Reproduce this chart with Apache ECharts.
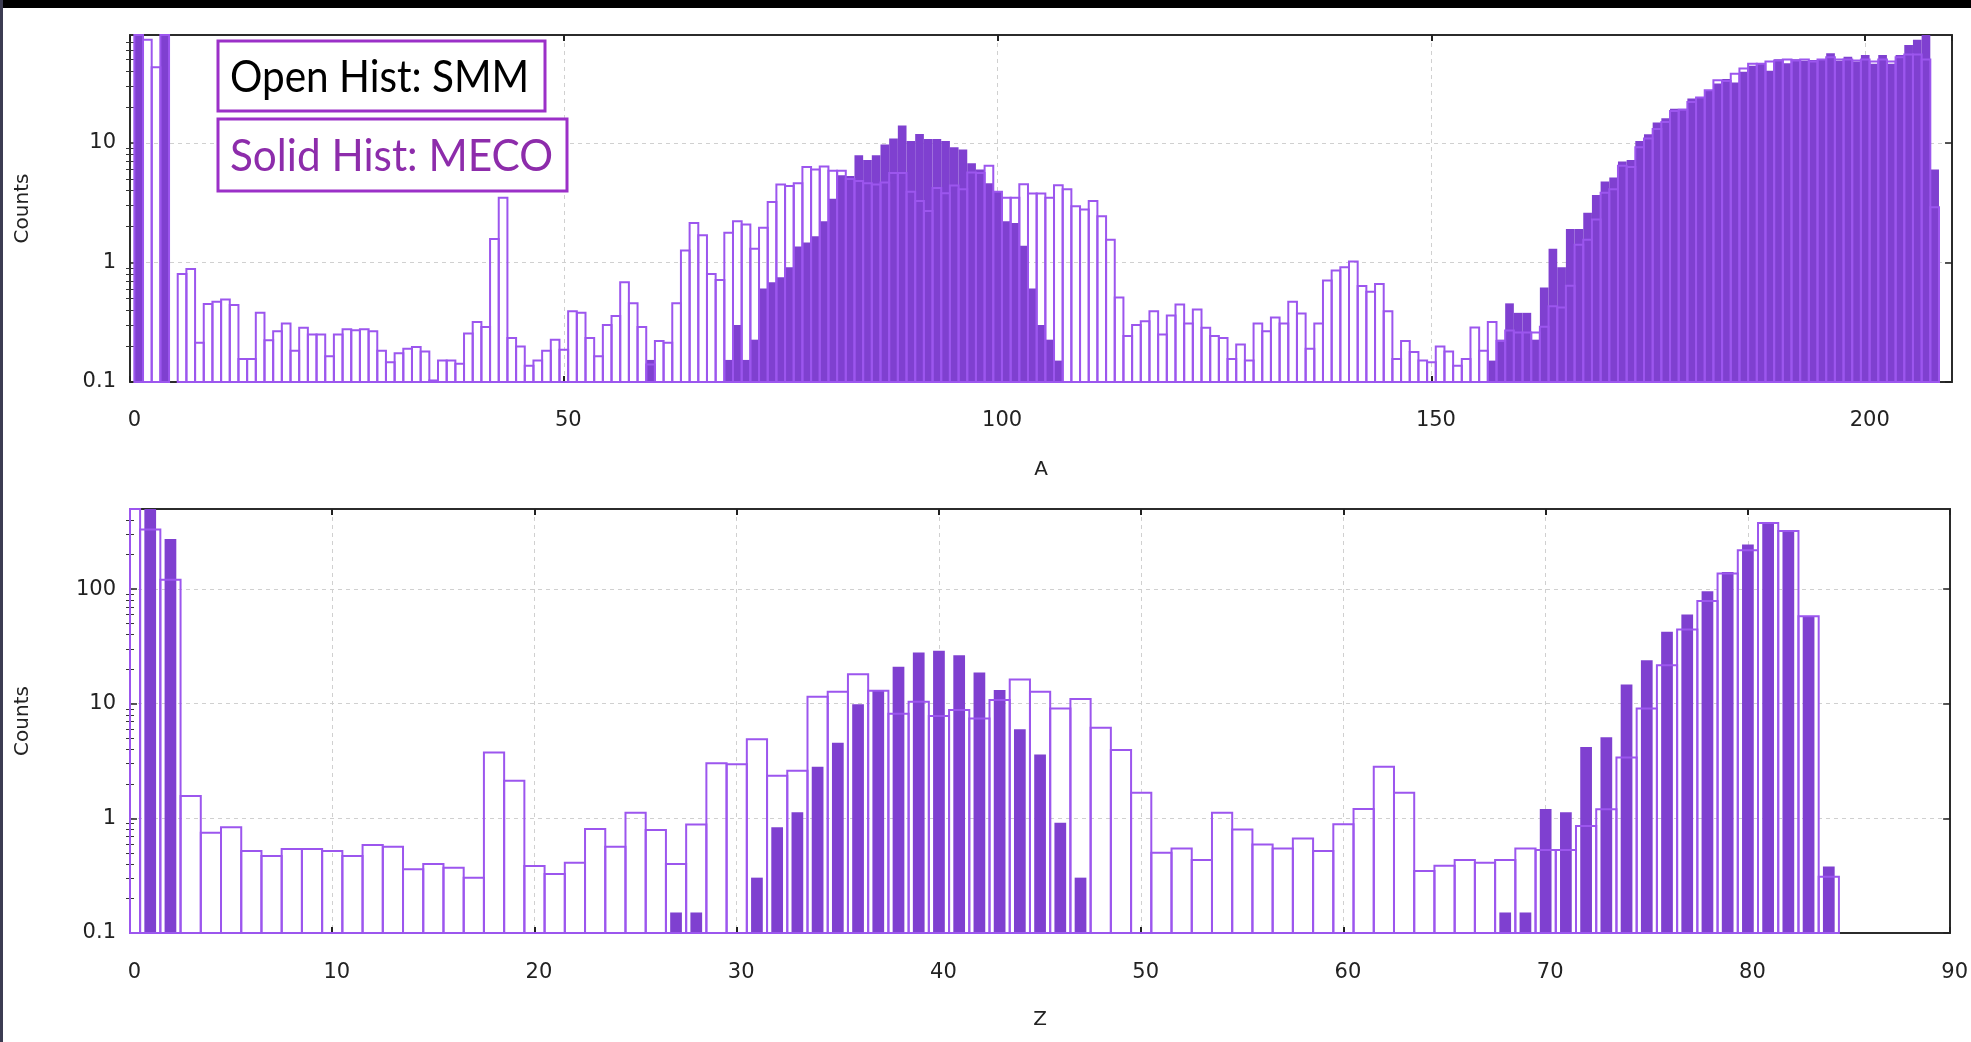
<!DOCTYPE html>
<html>
<head>
<meta charset="utf-8">
<script src="https://cdn.jsdelivr.net/npm/echarts@6.0.0/dist/echarts.min.js"></script>
<style>
html,body{margin:0;padding:0;background:#fff;}
#c{width:1971px;height:1042px;}
</style>
</head>
<body>
<div id="c"></div>
<script>
// ---------------- DATA ----------------
// Top panel: mass number A, bins start at A = 1
const A_START = 1;
const smmA = [
  300,73,43,300,0,0.80,0.88,0.213,0.449,0.469,
  0.49,0.44,0.156,0.156,0.379,0.223,0.266,0.308,0.183,0.284,
  0.25,0.25,0.164,0.25,0.276,0.271,0.276,0.266,0.183,0.146,
  0.174,0.19,0.196,0.18,0.103,0.151,0.151,0.142,0.254,0.318,
  0.289,1.57,3.48,0.233,0.198,0.137,0.151,0.183,0.226,0.186,
  0.391,0.379,0.233,0.164,0.30,0.357,0.683,0.455,0.289,0.14,
  0.22,0.213,0.455,1.26,2.14,1.69,0.80,0.714,1.77,2.21,
  2.08,1.30,1.95,3.2,4.5,4.37,4.6,6.3,6.0,6.35,
  5.85,5.85,5.0,4.8,4.6,4.5,4.66,5.6,5.6,3.9,
  3.27,2.69,4.2,3.8,4.4,4.1,5.65,5.6,6.45,3.9,
  3.48,3.48,4.52,3.77,3.77,3.48,4.43,4.09,2.96,2.78,
  3.27,2.44,1.55,0.51,0.242,0.30,0.322,0.39,0.25,0.36,
  0.445,0.308,0.405,0.284,0.242,0.233,0.156,0.206,0.151,0.308,
  0.266,0.346,0.308,0.469,0.374,0.19,0.308,0.705,0.856,0.913,
  1.02,0.636,0.57,0.66,0.39,0.156,0.22,0.178,0.151,0.146,
  0.198,0.18,0.137,0.156,0.286,0.183,0.318,0.22,0.27,0.26,
  0.26,0.26,0.29,0.43,0.42,0.64,1.41,1.55,2.29,3.84,
  4.1,6.44,6.3,9.2,10.9,13.1,15.0,18.5,19.0,22.0,
  24.0,27.6,33.5,33.0,38.0,42.0,46.0,46.0,48.0,49.0,
  50.0,49.0,50.0,48.0,50.0,52.0,50.0,50.0,49.0,50.0,
  48.0,50.0,48.0,52.0,55.0,55.0,50.0,2.9
];
const mecoA = [
  300,0,0,300,0,0,0,0,0,0,
  0,0,0,0,0,0,0,0,0,0,
  0,0,0,0,0,0,0,0,0,0,
  0,0,0,0,0,0,0,0,0,0,
  0,0,0,0,0,0,0,0,0,0,
  0,0,0,0,0,0,0,0,0,0.153,
  0,0,0,0,0,0,0,0,0.153,0.30,
  0.153,0.226,0.607,0.683,0.752,0.913,1.36,1.47,1.66,2.21,
  3.42,5.37,5.3,7.9,7.2,7.9,9.7,10.9,14.0,10.4,
  11.9,10.8,10.8,10.4,9.2,8.8,6.75,6.0,4.6,3.97,
  2.21,2.14,1.38,0.607,0.30,0.226,0.151,0,0,0,
  0,0,0,0,0,0,0,0,0,0,
  0,0,0,0,0,0,0,0,0,0,
  0,0,0,0,0,0,0,0,0,0,
  0,0,0,0,0,0,0,0,0,0,
  0,0,0,0,0,0,0.151,0.226,0.455,0.379,
  0.379,0.226,0.616,1.30,0.913,1.91,1.91,2.60,3.67,4.75,
  5.14,7.0,7.2,10.4,11.8,14.8,16.1,19.3,19.3,23.5,
  24.2,27.6,31.4,34.2,32.0,39.4,44.3,46.4,40.1,50.1,
  46.4,50.1,48.8,49.5,50.5,56.3,48.8,52.7,48.0,54.4,
  46.0,54.5,46.0,54.5,66.0,73.0,85.0,6.0
];
// Bottom panel: charge Z, bins start at Z = 0
const Z_START = 0;
const smmZ = [
  3000,331,121,1.57,0.75,0.835,0.519,0.469,0.54,0.54,
  0.519,0.469,0.585,0.566,0.359,0.40,0.371,0.304,3.76,2.13,
  0.384,0.327,0.41,0.807,0.566,1.12,0.79,0.40,0.886,3.02,
  2.96,4.89,2.36,2.6,11.5,12.7,18.1,13.0,8.2,10.4,
  7.8,8.8,7.45,10.8,16.3,12.7,9.1,11.0,6.17,3.94,
  1.67,0.502,0.547,0.433,1.12,0.80,0.593,0.547,0.669,0.519,
  0.89,1.21,2.82,1.67,0.347,0.387,0.433,0.41,0.433,0.547,
  0.53,0.53,0.857,1.2,3.4,9.1,21.7,44.5,78.6,137,
  218,378,322,58,0.31
];
const mecoZ = [
  0,3000,273,0,0,0,0,0,0,0,
  0,0,0,0,0,0,0,0,0,0,
  0,0,0,0,0,0,0,0.151,0.151,0,
  0,0.304,0.835,1.13,2.82,4.57,9.9,13.0,21.0,28.0,
  29.0,26.5,18.7,13.2,6.0,3.61,0.917,0.304,0,0,
  0,0,0,0,0,0,0,0,0,0,
  0,0,0,0,0,0,0,0,0.151,0.151,
  1.21,1.13,4.2,5.1,14.7,24,42.4,60,96,141,
  245,386,327,58,0.38
];
// Axis ticks
const topYMajor = [0.1, 1, 10];
const topYMinor = [0.2,0.3,0.4,0.5,0.6,0.7,0.8,0.9,2,3,4,5,6,7,8,9,20,30,40,50,60,70];
const botYMajor = [0.1, 1, 10, 100];
const botYMinor = [0.2,0.3,0.4,0.5,0.6,0.7,0.8,0.9,2,3,4,5,6,7,8,9,20,30,40,50,60,70,80,90,200,300,400];
const legendOpen = 'Open Hist: SMM';
const legendSolid = 'Solid Hist: MECO';

// ---------------- CHART ----------------
const FONT = 'DejaVu Sans';
const tickTxt = { color: '#222', fontSize: 21, fontFamily: FONT };
const nameTxt = { color: '#222', fontSize: 20, fontFamily: FONT };
const FILL = '#7f40d0';
const EDGE = '#9c56ee';

function toPairs(start, arr) {
  const out = [];
  arr.forEach((v, i) => { if (v > 0) out.push([start + i, v]); });
  return out;
}

function histRender(halfW, yBase, filled) {
  return function (params, api) {
    const x = api.value(0), v = api.value(1);
    const p1 = api.coord([x - halfW, v]);
    const p2 = api.coord([x + halfW, yBase]);
    const cs = params.coordSys;
    const rect = echarts.graphic.clipRectByRect(
      { x: p1[0], y: p1[1], width: p2[0] - p1[0], height: p2[1] - p1[1] },
      { x: cs.x, y: cs.y, width: cs.width, height: cs.height }
    );
    if (!rect) return;
    return {
      type: 'rect',
      shape: rect,
      style: filled ? { fill: FILL } : { fill: 'none', stroke: EDGE, lineWidth: 2 }
    };
  };
}

function xAxes(grid, max, interval, name, nameGap, margin) {
  const line = { show: true, onZero: false, lineStyle: { color: '#2b2b2b', width: 2 } };
  const tick = { show: true, inside: true, length: 6, lineStyle: { color: '#222', width: 2 } };
  return [{
    gridIndex: grid, type: 'value', min: 0, max: max, interval: interval, position: 'bottom',
    axisLine: line, axisTick: tick,
    axisLabel: Object.assign({}, tickTxt, { margin: margin, padding: [0, 0, 0, 9],
      showMaxLabel: max % interval === 0, showMinLabel: true }),
    splitLine: { show: true, lineStyle: { color: '#d0d0d0', type: [4, 4], width: 1 } },
    name: name, nameLocation: 'middle', nameGap: nameGap, nameTextStyle: Object.assign({}, nameTxt)
  }, {
    gridIndex: grid, type: 'value', min: 0, max: max, interval: interval, position: 'top',
    axisLine: line, axisTick: tick, axisLabel: { show: false }, splitLine: { show: false }
  }];
}

function yAxes(grid, max, majors, minors, nameGap, padTop) {
  const line = { show: true, onZero: false, lineStyle: { color: '#2b2b2b', width: 2 } };
  const base = { gridIndex: grid, type: 'log', logBase: 10, min: 0.1, max: max };
  const majTick = { show: true, inside: true, length: 7, customValues: majors, lineStyle: { color: '#222', width: 1.5 } };
  const minTick = { show: true, inside: true, length: 4, customValues: minors, lineStyle: { color: '#333', width: 1 } };
  return [
    Object.assign({}, base, {
      position: 'left', axisLine: line, axisTick: majTick,
      axisLabel: Object.assign({}, tickTxt, { margin: 14, customValues: majors, padding: [padTop, 0, 0, 0],
        formatter: v => String(+Number(v).toPrecision(3)) }),
      splitLine: { show: true, lineStyle: { color: '#d0d0d0', type: [4, 4], width: 1 } },
      name: 'Counts', nameLocation: 'middle', nameGap: nameGap, nameTextStyle: Object.assign({}, nameTxt)
    }),
    Object.assign({}, base, { position: 'left', axisLine: { show: false }, axisTick: minTick,
      axisLabel: { show: false }, splitLine: { show: false } }),
    Object.assign({}, base, { position: 'right', axisLine: line, axisTick: majTick,
      axisLabel: { show: false }, splitLine: { show: false } }),
    Object.assign({}, base, { position: 'right', axisLine: { show: false }, axisTick: minTick,
      axisLabel: { show: false }, splitLine: { show: false } })
  ];
}

const chart = echarts.init(document.getElementById('c'), null, { renderer: 'canvas' });
chart.setOption({
  animation: false,
  backgroundColor: '#ffffff',
  textStyle: { fontFamily: FONT },
  grid: [
    { left: 130, top: 35, width: 1822, height: 347 },
    { left: 130, top: 509, width: 1821, height: 424 }
  ],
  xAxis: [].concat(
    xAxes(0, 210, 50, 'A', 78, 28),
    xAxes(1, 90, 10, 'Z', 77, 29)
  ),
  yAxis: [].concat(
    yAxes(0, 80, topYMajor, topYMinor, 97, 10),
    yAxes(1, 500, botYMajor, botYMinor, 97, 7)
  ),
  series: [
    { type: 'custom', name: 'MECO A', xAxisIndex: 0, yAxisIndex: 0, z: 2, silent: true,
      encode: { x: 0, y: 1 }, data: toPairs(A_START, mecoA), renderItem: histRender(0.5, 0.1, true) },
    { type: 'custom', name: 'SMM A', xAxisIndex: 0, yAxisIndex: 0, z: 3, silent: true,
      encode: { x: 0, y: 1 }, data: toPairs(A_START, smmA), renderItem: histRender(0.5, 0.1, false) },
    { type: 'custom', name: 'MECO Z', xAxisIndex: 2, yAxisIndex: 4, z: 2, silent: true,
      encode: { x: 0, y: 1 }, data: toPairs(Z_START, mecoZ), renderItem: histRender(0.29, 0.1, true) },
    { type: 'custom', name: 'SMM Z', xAxisIndex: 2, yAxisIndex: 4, z: 3, silent: true,
      encode: { x: 0, y: 1 }, data: toPairs(Z_START, smmZ), renderItem: histRender(0.5, 0.1, false) }
  ],
  graphic: [
    { type: 'rect', z: 100, shape: { x: 0, y: 0, width: 1971, height: 8 }, style: { fill: '#000' } },
    { type: 'rect', z: 100, shape: { x: 0, y: 0, width: 3, height: 1042 }, style: { fill: '#3c3c52' } },
    { type: 'rect', z: 100, shape: { x: 218, y: 41, width: 327, height: 70 },
      style: { fill: '#fff', stroke: '#9b30c8', lineWidth: 3 } },
    { type: 'text', z: 101, x: 230, y: 77, scaleX: 0.9,
      style: { text: legendOpen, fill: '#000', fontSize: 45, fontFamily: 'Lato', align: 'left', verticalAlign: 'middle' } },
    { type: 'rect', z: 100, shape: { x: 218, y: 119, width: 349, height: 72 },
      style: { fill: '#fff', stroke: '#9b30c8', lineWidth: 3 } },
    { type: 'text', z: 101, x: 230, y: 156, scaleX: 0.94,
      style: { text: legendSolid, fill: '#8d2cab', fontSize: 45, fontFamily: 'Lato', align: 'left', verticalAlign: 'middle' } }
  ]
});
</script>
</body>
</html>
